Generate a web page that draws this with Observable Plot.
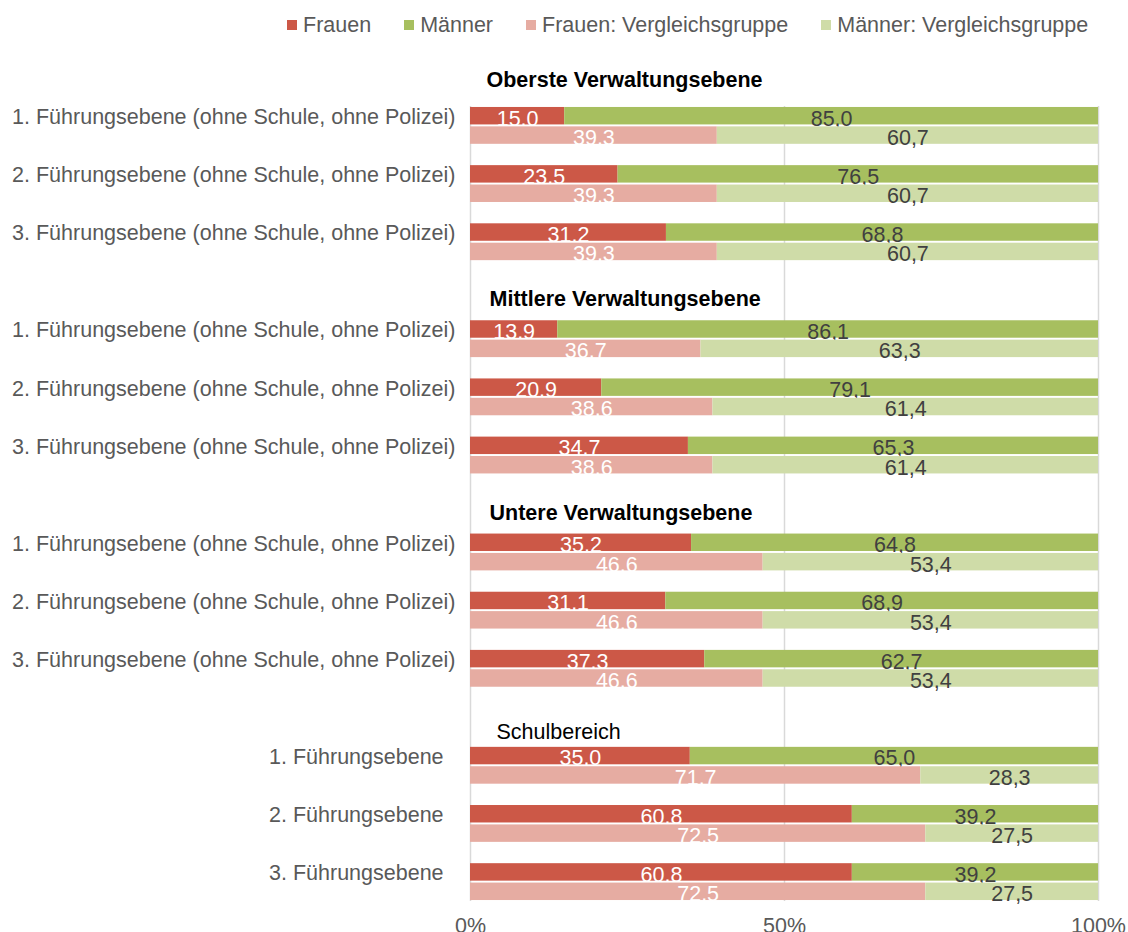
<!DOCTYPE html>
<html>
<head>
<meta charset="utf-8">
<script src="https://cdn.jsdelivr.net/npm/d3@7"></script>
<script src="https://cdn.jsdelivr.net/npm/@observablehq/plot@0.6"></script>
<style>
  html, body { margin: 0; padding: 0; background: #fff; overflow: hidden; }
  #legend { height: 50px; display: flex; align-items: center; padding-left: 287px; gap: 33px;
    font: 21.5px "Liberation Sans", Arial, sans-serif; color: #595959; box-sizing: border-box; }
  #legend .item { display: flex; align-items: center; white-space: nowrap; }
  #legend .sw { width: 10px; height: 10px; margin-right: 6px; }
  #chart svg { display: block; overflow: visible; }
</style>
</head>
<body>
<div id="legend"></div>
<div id="chart"></div>
<script>
// ---- data ----
const sections = ["Oberste Verwaltungsebene", "Mittlere Verwaltungsebene", "Untere Verwaltungsebene", "Schulbereich"];
const rowSection = [0, 0, 0, 1, 1, 1, 2, 2, 2, 3, 3, 3];
const rowLabels = [
  "1. Führungsebene (ohne Schule, ohne Polizei)",
  "2. Führungsebene (ohne Schule, ohne Polizei)",
  "3. Führungsebene (ohne Schule, ohne Polizei)",
  "1. Führungsebene (ohne Schule, ohne Polizei)",
  "2. Führungsebene (ohne Schule, ohne Polizei)",
  "3. Führungsebene (ohne Schule, ohne Polizei)",
  "1. Führungsebene (ohne Schule, ohne Polizei)",
  "2. Führungsebene (ohne Schule, ohne Polizei)",
  "3. Führungsebene (ohne Schule, ohne Polizei)",
  "1. Führungsebene\u00a0\u00a0",
  "2. Führungsebene\u00a0\u00a0",
  "3. Führungsebene\u00a0\u00a0"
];
const frauen    = [15.0, 23.5, 31.2, 13.9, 20.9, 34.7, 35.2, 31.1, 37.3, 35.0, 60.8, 60.8];
const maenner   = [85.0, 76.5, 68.8, 86.1, 79.1, 65.3, 64.8, 68.9, 62.7, 65.0, 39.2, 39.2];
const frauenVG  = [39.3, 39.3, 39.3, 36.7, 38.6, 38.6, 46.6, 46.6, 46.6, 71.7, 72.5, 72.5];
const maennerVG = [60.7, 60.7, 60.7, 63.3, 61.4, 61.4, 53.4, 53.4, 53.4, 28.3, 27.5, 27.5];
const seriesNames = ["Frauen", "Männer", "Frauen: Vergleichsgruppe", "Männer: Vergleichsgruppe"];
const seriesColors = ["#cc5847", "#a7bf5f", "#e6aca2", "#cfdca8"];
const xTicks = [0, 50, 100];

// ---- derived tables ----
const FONT = '"Liberation Sans", Arial, sans-serif';
const FS = 21.5;
const fmt = v => v.toFixed(1).replace(".", ",");

const yDomain = [];
const labelOf = {};
rowLabels.forEach((lab, i) => {
  if (i > 0 && rowSection[i] !== rowSection[i - 1]) { yDomain.push(`g${i}a`, `g${i}b`); }
  yDomain.push(`r${i}m`, `r${i}c`);
  if (i < rowLabels.length - 1) yDomain.push(`r${i}s`);
  labelOf[`r${i}m`] = lab;
});
const mainKeys = rowLabels.map((_, i) => `r${i}m`);
const compKeys = rowLabels.map((_, i) => `r${i}c`);

const mainData = rowLabels.flatMap((_, i) => [
  {key: `r${i}m`, series: seriesNames[0], value: frauen[i]},
  {key: `r${i}m`, series: seriesNames[1], value: maenner[i]}
]);
const compData = rowLabels.flatMap((_, i) => [
  {key: `r${i}c`, series: seriesNames[2], value: frauenVG[i]},
  {key: `r${i}c`, series: seriesNames[3], value: maennerVG[i]}
]);
const compRules = compKeys.flatMap(k => xTicks.map(x => ({key: k, x})));
const headerData = sections.map((name, j) => ({name, key: `r${rowSection.indexOf(j)}m`}));

// ---- legend ----
const legend = document.getElementById("legend");
seriesNames.forEach((s, i) => {
  const it = document.createElement("div");
  it.className = "item";
  const sw = document.createElement("span");
  sw.className = "sw";
  sw.style.background = seriesColors[i];
  it.appendChild(sw);
  it.appendChild(document.createTextNode(s));
  legend.appendChild(it);
});

// ---- chart ----
const labelMarks = (data, lightSeries, darkSeries) => [
  Plot.text(data, Plot.stackX({x: "value", y: "key", text: d => d.series === lightSeries ? fmt(d.value) : null,
    fill: "#ffffff", fontSize: FS, dy: 2.5})),
  Plot.text(data, Plot.stackX({x: "value", y: "key", text: d => d.series === darkSeries ? fmt(d.value) : null,
    fill: "#404040", fontSize: FS, dy: 2.5}))
];

const chart = Plot.plot({
  width: 1128,
  height: 882,
  marginLeft: 470,
  marginRight: 30,
  marginTop: 56,
  marginBottom: 31,
  style: {fontFamily: FONT, fontSize: FS + "px", background: "#fff", overflow: "visible"},
  x: {domain: [0, 100], axis: null},
  y: {domain: yDomain, paddingInner: 0.1, paddingOuter: 0.05, round: false, axis: null},
  color: {domain: seriesNames, range: seriesColors},
  marks: [
    Plot.ruleX(xTicks, {stroke: "#d9d9d9", strokeWidth: 1.5}),
    Plot.barX(mainData, Plot.stackX({x: "value", y: "key", fill: "series"})),
    ...labelMarks(mainData, seriesNames[0], seriesNames[1]),
    Plot.barX(compData, Plot.stackX({x: "value", y: "key", fill: "series"})),
    Plot.ruleX(compRules, {x: "x", y: "key", stroke: "#8a8a8a", strokeOpacity: 0.3, strokeWidth: 1.5}),
    ...labelMarks(compData, seriesNames[2], seriesNames[3]),
    Plot.axisY({ticks: mainKeys, tickFormat: k => labelOf[k], tickSize: 0, tickPadding: 15,
      fill: "#595959", fontSize: FS, dy: 1, label: null}),
    Plot.axisX({ticks: xTicks, tickFormat: d => d + "%", tickSize: 0, tickPadding: 16,
      fill: "#595959", fontSize: FS, label: null}),
    Plot.text(headerData.slice(0, 1), {x: 0, y: "key", text: "name", textAnchor: "start", dx: 16, dy: -36,
      fontWeight: "bold", fill: "#000", fontSize: FS}),
    Plot.text(headerData.slice(1, 3), {x: 0, y: "key", text: "name", textAnchor: "start", dx: 19, dy: -30,
      fontWeight: "bold", fill: "#000", fontSize: FS}),
    Plot.text(headerData.slice(3), {x: 0, y: "key", text: "name", textAnchor: "start", dx: 26, dy: -23.5,
      fill: "#000", fontSize: FS})
  ]
});
document.getElementById("chart").appendChild(chart);
</script>
</body>
</html>
